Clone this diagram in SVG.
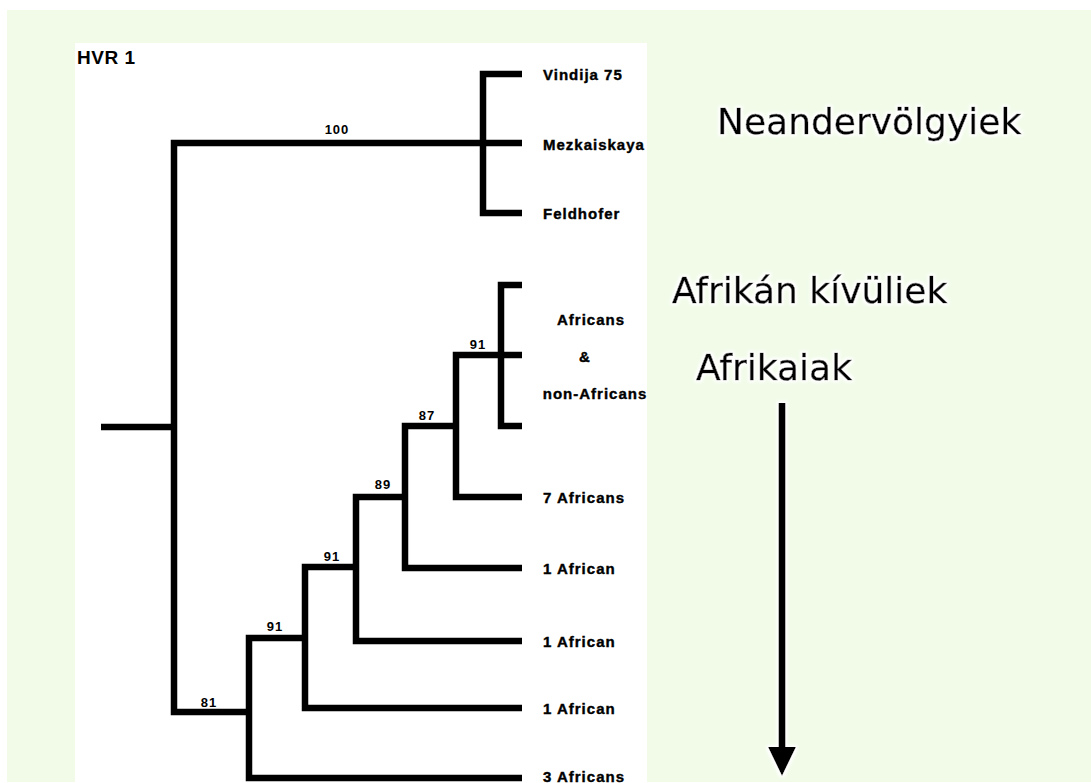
<svg xmlns="http://www.w3.org/2000/svg" width="1091" height="783" viewBox="0 0 1091 783">
  <defs>
    <style>
      .br { fill: none; stroke: #000; stroke-width: 6.5; stroke-linejoin: miter; stroke-linecap: butt; }
      .leaf { font-family: "Liberation Sans", Arial, sans-serif; font-weight: bold; font-size: 15px; letter-spacing: 1px; fill: #000; stroke: #000; stroke-width: 0.4px; }
      .sup { font-family: "Liberation Sans", Arial, sans-serif; font-weight: bold; font-size: 13px; letter-spacing: 1px; fill: #000; text-anchor: middle; }
      .big { font-family: "DejaVu Sans", Verdana, sans-serif; font-size: 36px; fill: #000; stroke: #000; stroke-width: 0.5px; }
    </style>
    <filter id="halo" x="-10%" y="-40%" width="120%" height="180%">
      <feMorphology in="SourceAlpha" operator="dilate" radius="2" result="d"/>
      <feGaussianBlur in="d" stdDeviation="1.5" result="b"/>
      <feFlood flood-color="#ffffff"/>
      <feComposite in2="b" operator="in" result="w"/>
      <feMerge><feMergeNode in="w"/><feMergeNode in="SourceGraphic"/></feMerge>
    </filter>
  </defs>

  <rect x="0" y="0" width="1091" height="783" fill="#ffffff"/>
  <rect x="7" y="10" width="1084" height="772" fill="#f1fbe8"/>
  <rect x="75" y="43" width="572" height="740" fill="#ffffff"/>

  <text x="77" y="64" font-family="Liberation Sans, Arial, sans-serif" font-weight="bold" font-size="19" letter-spacing="0.5">HVR 1</text>

  <g id="connectors">
    <line class="br" x1="101" y1="427" x2="174" y2="427"/>
    <polyline class="br" points="483,143 174,143 174,712 249,712"/>
    <polyline class="br" points="522,74 483,74 483,213 522,213"/>
    <line class="br" x1="483" y1="143" x2="522" y2="143"/>
    <polyline class="br" points="305,638 249,638 249,778 522,778"/>
    <polyline class="br" points="356,567 305,567 305,708 522,708"/>
    <polyline class="br" points="405,497 356,497 356,641 522,641"/>
    <polyline class="br" points="456,426 405,426 405,568 522,568"/>
    <polyline class="br" points="501,355 456,355 456,497 522,497"/>
    <polyline class="br" points="522,285 501,285 501,426 522,426"/>
    <line class="br" x1="501" y1="355" x2="522" y2="355"/>
  </g>

  <g id="support-labels">
    <text class="sup" x="337" y="134">100</text>
    <text class="sup" x="478" y="349">91</text>
    <text class="sup" x="427" y="420">87</text>
    <text class="sup" x="383" y="489">89</text>
    <text class="sup" x="332" y="561">91</text>
    <text class="sup" x="275" y="631">91</text>
    <text class="sup" x="209" y="707">81</text>
  </g>

  <g id="node-vindija"><text class="leaf" x="543" y="80">Vindija 75</text></g>
  <g id="node-mezkaiskaya"><text class="leaf" x="543" y="150">Mezkaiskaya</text></g>
  <g id="node-feldhofer"><text class="leaf" x="543" y="219">Feldhofer</text></g>
  <g id="node-africans-nonafricans">
    <text class="leaf" x="591" y="325" text-anchor="middle">Africans</text>
    <text class="leaf" x="585" y="362" text-anchor="middle">&amp;</text>
    <text class="leaf" x="595" y="399" text-anchor="middle">non-Africans</text>
  </g>
  <g id="node-7africans"><text class="leaf" x="543" y="503">7 Africans</text></g>
  <g id="node-1african-a"><text class="leaf" x="543" y="574">1 African</text></g>
  <g id="node-1african-b"><text class="leaf" x="543" y="647">1 African</text></g>
  <g id="node-1african-c"><text class="leaf" x="543" y="714">1 African</text></g>
  <g id="node-3africans"><text class="leaf" x="543" y="782">3 Africans</text></g>

  <g id="label-neander" filter="url(#halo)"><text class="big" x="717" y="134" font-size="37">Neandervölgyiek</text></g>
  <g id="label-outside" filter="url(#halo)"><text class="big" x="672" y="303" font-size="37">Afrikán kívüliek</text></g>
  <g id="label-africans" filter="url(#halo)"><text class="big" x="696" y="380">Afrikaiak</text></g>

  <g id="arrow" filter="url(#halo)">
    <line x1="782" y1="403" x2="782" y2="752" stroke="#000" stroke-width="7"/>
    <polygon points="768,747 796,747 782,776" fill="#000"/>
  </g>
</svg>
